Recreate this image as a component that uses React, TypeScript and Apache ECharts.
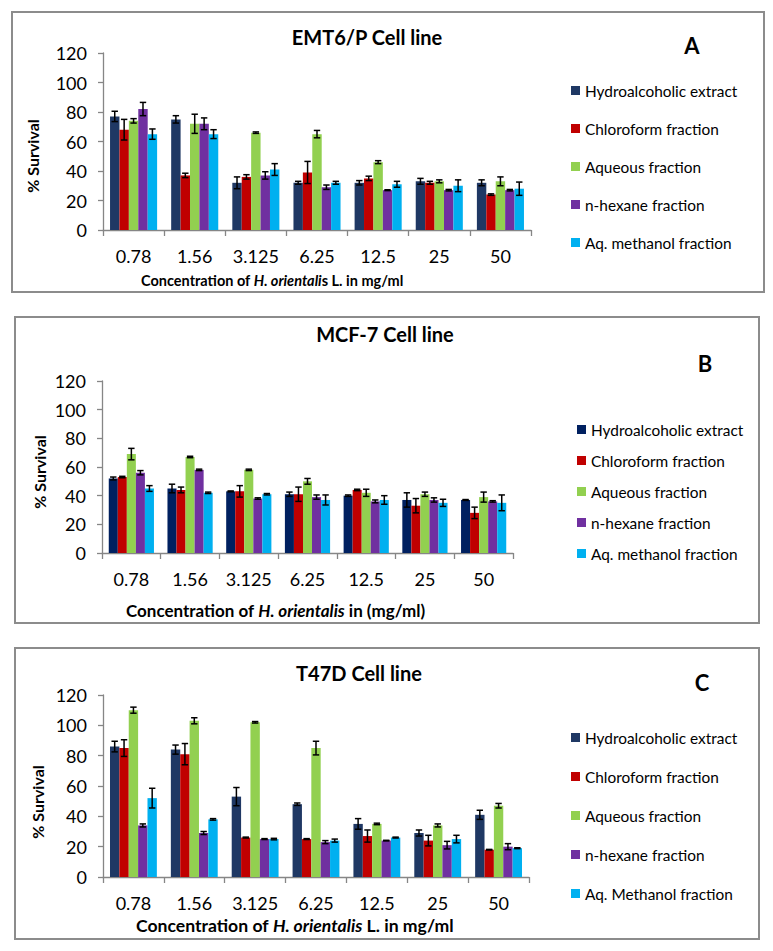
import React, { useEffect, useRef } from "react";
import * as echarts from "echarts";

const categories = ["0.78", "1.56", "3.125", "6.25", "12.5", "25", "50"];
const yTicks = { min: 0, max: 120, interval: 20 };

const namesAB = ["Hydroalcoholic extract", "Chloroform fraction", "Aqueous fraction", "n-hexane fraction", "Aq. methanol fraction"];
const namesC = ["Hydroalcoholic extract", "Chloroform fraction", "Aqueous fraction", "n-hexane fraction", "Aq. Methanol fraction"];

const colorsAC = ["#1F3864", "#C00000", "#92D050", "#7030A0", "#00B0F0"];
const colorsB = ["#002060", "#C00000", "#92D050", "#7030A0", "#00B0F0"];

// Panel A: EMT6/P
const emtHydro = [77, 75, 32, 32, 32, 33, 32];
const emtHydroErr = [3.5, 2.5, 4, 1, 1.5, 2, 2];
const emtChloro = [68, 37, 36, 39, 35, 32, 24];
const emtChloroErr = [7, 1.5, 1.5, 7.5, 1.5, 1, 0.5];
const emtAqueous = [74, 72, 66, 65, 46, 33, 33];
const emtAqueousErr = [1.5, 6.5, 0.5, 2.5, 1, 1, 3];
const emtHexane = [82, 72, 37, 29, 27, 27, 27];
const emtHexaneErr = [4.5, 4, 2.5, 1.5, 0.3, 0.5, 0.5];
const emtMethanol = [65, 65, 41, 32, 31, 30, 28];
const emtMethanolErr = [3.5, 3, 4, 1, 2, 4, 4.5];

// Panel B: MCF-7
const mcfHydro = [52, 45, 43, 41, 40, 37, 37];
const mcfHydroErr = [1, 3, 0.3, 1.5, 0.5, 5, 0.3];
const mcfChloro = [53, 44, 43, 41, 44, 33, 28];
const mcfChloroErr = [0.5, 2, 4, 5, 0.5, 5, 4];
const mcfAqueous = [69, 67, 58, 50, 42, 41, 39];
const mcfAqueousErr = [4, 0.5, 0.5, 2, 2.5, 1.5, 3.5];
const mcfHexane = [56, 58, 38, 39, 36, 37, 36];
const mcfHexaneErr = [1.5, 0.5, 0.5, 1.5, 1, 1.5, 0.5];
const mcfMethanol = [45, 42, 41, 37, 37, 35, 35];
const mcfMethanolErr = [2, 0.5, 0.5, 3.5, 3, 2.5, 5.5];

// Panel C: T47D
const t47Hydro = [86, 84, 53, 48, 35, 29, 41];
const t47HydroErr = [3.5, 3, 6, 0.8, 3.5, 2, 3];
const t47Chloro = [85, 81, 26, 25, 27, 24, 18];
const t47ChloroErr = [5.5, 7, 0.3, 0.3, 4, 3.5, 0.2];
const t47Aqueous = [110, 103, 102, 85, 35, 34, 47];
const t47AqueousErr = [2, 2, 0.5, 4.5, 0.5, 1, 1.5];
const t47Hexane = [34, 29, 25, 23, 24, 21, 20];
const t47HexaneErr = [1, 1, 0.3, 1, 0.2, 2.5, 2];
const t47Methanol = [52, 38, 25, 24, 26, 25, 19];
const t47MethanolErr = [6.5, 0.5, 0.5, 1, 0.3, 2.5, 0.3];

const FONT = "Lato";

const panels = [
  {
    names: namesAB,
    colors: colorsAC,
    values: [emtHydro, emtChloro, emtAqueous, emtHexane, emtMethanol],
    errors: [emtHydroErr, emtChloroErr, emtAqueousErr, emtHexaneErr, emtMethanolErr],
    grid: { left: 103, top: 53, width: 428, height: 177 },
    frame: { x: 12, y: 12, width: 752, height: 280 },
    title: "EMT6/P Cell line",
    titlePos: [367, 37],
    letter: "A",
    letterPos: [692, 45],
    yTitlePos: [32, 156],
    xTitle: [
      { t: "Concentration of ", i: false },
      { t: "H. orientali", i: true },
      { t: "s L. in mg/ml", i: false },
    ],
    xTitlePos: [141, 280],
    xTitleSize: 14.5,
    legend: { left: 571, top: 83, gap: 23 },
  },
  {
    names: namesAB,
    colors: colorsB,
    values: [mcfHydro, mcfChloro, mcfAqueous, mcfHexane, mcfMethanol],
    errors: [mcfHydroErr, mcfChloroErr, mcfAqueousErr, mcfHexaneErr, mcfMethanolErr],
    grid: { left: 102, top: 381, width: 411, height: 172 },
    frame: { x: 15, y: 317, width: 744, height: 306 },
    title: "MCF-7 Cell line",
    titlePos: [385, 334],
    letter: "B",
    letterPos: [705, 363],
    yTitlePos: [39, 472],
    xTitle: [
      { t: "Concentration of ", i: false },
      { t: "H. orientalis", i: true },
      { t: " in (mg/ml)", i: false },
    ],
    xTitlePos: [126, 610],
    xTitleSize: 17,
    legend: { left: 577, top: 422, gap: 16 },
  },
  {
    names: namesC,
    colors: colorsAC,
    values: [t47Hydro, t47Chloro, t47Aqueous, t47Hexane, t47Methanol],
    errors: [t47HydroErr, t47ChloroErr, t47AqueousErr, t47HexaneErr, t47MethanolErr],
    grid: { left: 103, top: 695, width: 426, height: 182 },
    frame: { x: 15, y: 648, width: 744, height: 291 },
    title: "T47D Cell line",
    titlePos: [359, 673],
    letter: "C",
    letterPos: [702, 682],
    yTitlePos: [37, 802],
    xTitle: [
      { t: "Concentration of ", i: false },
      { t: "H. orientalis", i: true },
      { t: " L. in mg/ml", i: false },
    ],
    xTitlePos: [136, 925],
    xTitleSize: 17.6,
    legend: { left: 571, top: 730, gap: 24 },
  },
];

const BAR_CAT_GAP = 0.23;

function buildOption() {
  const grid: any[] = [];
  const xAxis: any[] = [];
  const yAxis: any[] = [];
  const series: any[] = [];
  const legend: any[] = [];
  const graphic: any[] = [];

  panels.forEach((p, pi) => {
    grid.push({ ...p.grid, containLabel: false });
    xAxis.push({
      type: "category",
      gridIndex: pi,
      data: categories,
      axisLine: { show: true, lineStyle: { color: "#868686", width: 1.3 } },
      axisTick: { show: true, interval: 0, length: 6, lineStyle: { color: "#868686", width: 1.3 } },
      axisLabel: { interval: 0, hideOverlap: false, color: "#000", fontSize: 18, fontFamily: FONT, margin: 17 },
      splitLine: { show: false },
    });
    yAxis.push({
      type: "value",
      gridIndex: pi,
      min: yTicks.min,
      max: yTicks.max,
      interval: yTicks.interval,
      axisLine: { show: true, lineStyle: { color: "#868686", width: 1.3 } },
      axisTick: { show: true, length: 5, lineStyle: { color: "#868686", width: 1.3 } },
      axisLabel: { color: "#000", fontSize: 18, fontFamily: FONT, margin: 16 },
      splitLine: { show: false },
    });

    const errData: any[] = [];
    p.names.forEach((name, si) => {
      series.push({
        type: "bar",
        name,
        xAxisIndex: pi,
        yAxisIndex: pi,
        data: p.values[si],
        barGap: "0%",
        barCategoryGap: BAR_CAT_GAP * 100 + "%",
        itemStyle: { color: p.colors[si] },
        z: 2,
      });
      p.values[si].forEach((v, ci) => {
        errData.push([ci, si, v, p.errors[si][ci]]);
      });
    });

    series.push({
      type: "custom",
      name: "err" + pi,
      xAxisIndex: pi,
      yAxisIndex: pi,
      data: errData,
      encode: { x: 0, y: 2 },
      z: 5,
      renderItem: (params: any, api: any) => {
        const ci = api.value(0);
        const si = api.value(1);
        const v = api.value(2);
        const e = api.value(3);
        const band = api.size([1, 0])[0];
        const bw = (band * (1 - BAR_CAT_GAP)) / 5;
        const c = api.coord([ci, v]);
        const xc = c[0] + (si - 2) * bw;
        const yt = api.coord([ci, v + e])[1];
        const yb = api.coord([ci, v - e])[1];
        const cap = 3.2;
        const st = { stroke: "#000", lineWidth: 1.5 };
        return {
          type: "group",
          children: [
            { type: "line", shape: { x1: xc, y1: yt, x2: xc, y2: yb }, style: st },
            { type: "line", shape: { x1: xc - cap, y1: yt, x2: xc + cap, y2: yt }, style: st },
            { type: "line", shape: { x1: xc - cap, y1: yb, x2: xc + cap, y2: yb }, style: st },
          ],
        };
      },
    });

    legend.push({
      orient: "vertical",
      left: p.legend.left,
      top: p.legend.top,
      padding: 0,
      itemGap: p.legend.gap,
      itemWidth: 9,
      itemHeight: 9,
      icon: "rect",
      selectedMode: false,
      textStyle: { fontSize: 15.4, fontFamily: FONT, color: "#000", lineHeight: 15 },
      data: p.names.map((n, i) => ({ name: n, itemStyle: { color: p.colors[i] } })),
    });

    graphic.push({
      type: "rect",
      shape: { x: p.frame.x, y: p.frame.y, width: p.frame.width, height: p.frame.height },
      style: { fill: "none", stroke: "#8C8C8C", lineWidth: 2 },
      z: 0,
    });
    graphic.push({
      type: "text",
      x: p.titlePos[0],
      y: p.titlePos[1],
      style: {
        text: p.title,
        fontSize: 20,
        fontWeight: "bold",
        fontFamily: FONT,
        fill: "#000",
        align: "center",
        verticalAlign: "middle",
      },
    });
    graphic.push({
      type: "text",
      x: p.letterPos[0],
      y: p.letterPos[1],
      style: {
        text: p.letter,
        fontSize: 22,
        fontWeight: "bold",
        fontFamily: FONT,
        fill: "#000",
        align: "center",
        verticalAlign: "middle",
      },
    });
    graphic.push({
      type: "text",
      x: p.yTitlePos[0],
      y: p.yTitlePos[1],
      rotation: Math.PI / 2,
      style: {
        text: "% Survival",
        fontSize: 16,
        fontWeight: "bold",
        fontFamily: FONT,
        fill: "#000",
        align: "center",
        verticalAlign: "middle",
      },
    });
    const fs = p.xTitleSize;
    graphic.push({
      type: "text",
      x: p.xTitlePos[0],
      y: p.xTitlePos[1],
      style: {
        text: p.xTitle.map((s) => `{${s.i ? "i" : "b"}|${s.t}}`).join(""),
        rich: {
          b: { fontSize: fs, fontWeight: "bold", fontFamily: FONT, fill: "#000" },
          i: { fontSize: fs, fontWeight: "bold", fontStyle: "italic", fontFamily: FONT, fill: "#000" },
        },
        align: "left",
        verticalAlign: "middle",
      },
    });
  });

  return {
    animation: false,
    backgroundColor: "#fff",
    grid,
    xAxis,
    yAxis,
    series,
    legend,
    graphic,
  };
}

export default function App() {
  const ref = useRef<HTMLDivElement>(null);
  useEffect(() => {
    if (!ref.current) return;
    const chart = echarts.init(ref.current, undefined, { renderer: "svg" });
    chart.setOption(buildOption() as any);
    return () => chart.dispose();
  }, []);
  return (
    <div
      ref={ref}
      style={{ position: "absolute", left: 0, top: 0, width: 773, height: 951, background: "#fff" }}
    />
  );
}
